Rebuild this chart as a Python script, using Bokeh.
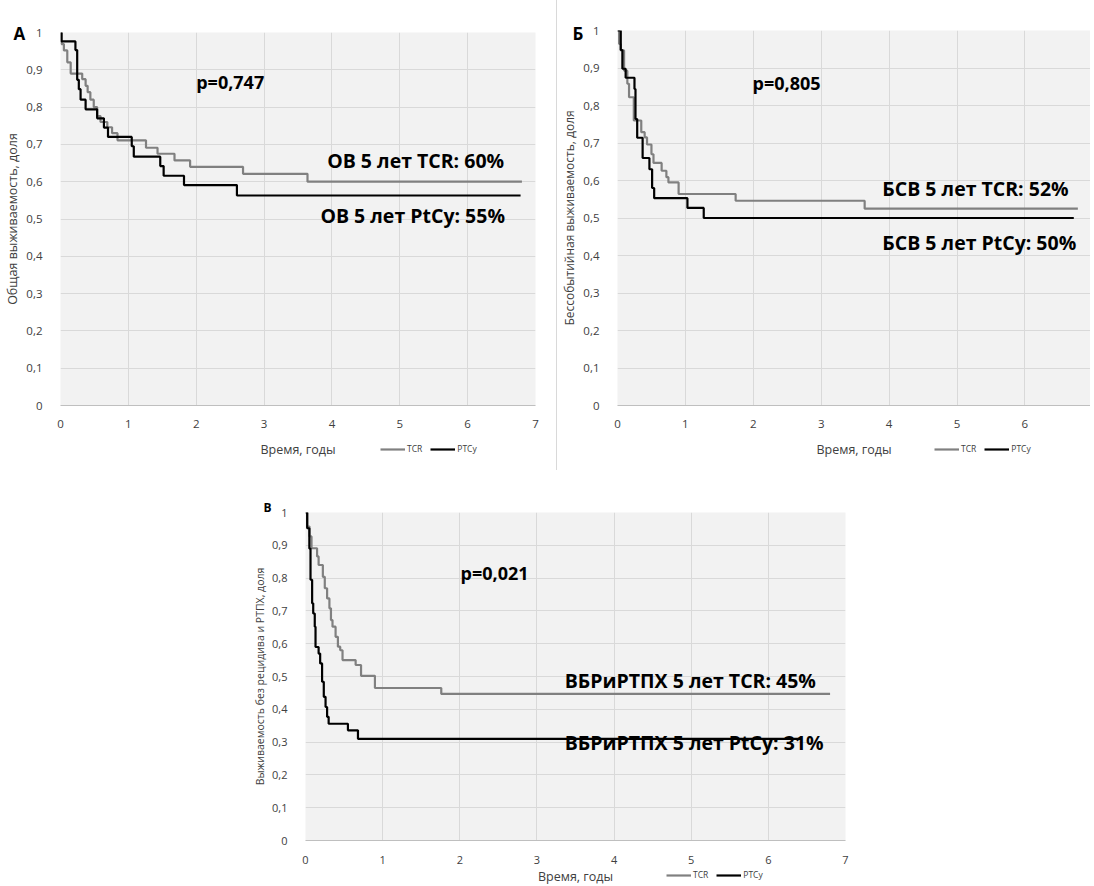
from bokeh.plotting import figure
from bokeh.models import FixedTicker, Label, Legend, LegendItem, Spacer, Title
from bokeh.layouts import row, column
from bokeh.embed import file_html
from bokeh.resources import INLINE

# ---------------- data ----------------
x_ticks = [0, 1, 2, 3, 4, 5, 6, 7]
y_ticks = [0, 0.1, 0.2, 0.3, 0.4, 0.5, 0.6, 0.7, 0.8, 0.9, 1.0]
y_tick_labels = ["0", "0,1", "0,2", "0,3", "0,4", "0,5", "0,6", "0,7", "0,8", "0,9", "1"]
series_names = ["TCR", "PTCy"]

# Panel A: overall survival
a_tcr_t = [0, 0.015, 0.05, 0.10, 0.15, 0.32, 0.37, 0.40, 0.44, 0.49, 0.54, 0.59, 0.69, 0.76, 0.84,
           1.26, 1.43, 1.68, 1.91, 2.69, 3.64, 6.80]
a_tcr_s = [1.0, 0.969, 0.952, 0.92, 0.89, 0.875, 0.857, 0.84, 0.82, 0.80, 0.776, 0.76, 0.746, 0.73, 0.711,
           0.691, 0.675, 0.657, 0.64, 0.621, 0.60, 0.60]
a_ptcy_t = [0, 0.015, 0.22, 0.246, 0.27, 0.296, 0.37, 0.54, 0.64, 0.70, 1.05, 1.08, 1.47, 1.52,
            1.82, 2.60, 6.78]
a_ptcy_s = [1.0, 0.976, 0.953, 0.873, 0.848, 0.82, 0.794, 0.77, 0.745, 0.72, 0.695, 0.667, 0.642, 0.616,
            0.591, 0.563, 0.563]

# Panel B: event-free survival
b_tcr_t = [0, 0.024, 0.048, 0.097, 0.145, 0.17, 0.24, 0.35, 0.40, 0.435, 0.50, 0.53, 0.65, 0.72, 0.75,
           0.90, 1.74, 3.64, 6.78]
b_tcr_s = [1.0, 0.964, 0.947, 0.893, 0.858, 0.822, 0.76, 0.729, 0.715, 0.696, 0.67, 0.647, 0.626, 0.609,
           0.595, 0.564, 0.546, 0.525, 0.525]
b_ptcy_t = [0, 0.048, 0.072, 0.12, 0.25, 0.265, 0.29, 0.37, 0.47, 0.51, 0.54, 1.03, 1.27, 6.72]
b_ptcy_s = [1.0, 0.948, 0.898, 0.874, 0.844, 0.764, 0.714, 0.66, 0.63, 0.58, 0.553, 0.527, 0.50, 0.50]

# Panel C: GVHD-free relapse-free survival
c_tcr_t = [0, 0.022, 0.052, 0.078, 0.15, 0.17, 0.225, 0.25, 0.28, 0.31, 0.33, 0.35, 0.39, 0.42, 0.45,
           0.48, 0.65, 0.72, 0.90, 1.76, 6.80]
c_tcr_s = [1.0, 0.957, 0.927, 0.891, 0.866, 0.84, 0.804, 0.769, 0.738, 0.708, 0.672, 0.652, 0.621, 0.591,
           0.58, 0.55, 0.535, 0.502, 0.465, 0.447, 0.447]
c_ptcy_t = [0, 0.022, 0.05, 0.065, 0.086, 0.10, 0.12, 0.13, 0.17, 0.19, 0.215, 0.237, 0.26, 0.28, 0.30,
            0.55, 0.68, 6.43]
c_ptcy_s = [1.0, 0.952, 0.89, 0.795, 0.723, 0.692, 0.652, 0.59, 0.57, 0.54, 0.484, 0.438, 0.407, 0.377,
            0.356, 0.336, 0.31, 0.31]

FONT = "Open Sans"
GRAY = "#808080"
TXT = "#404040"
X_LABEL = "Время, годы"


def make_panel(width, height, left, right, top, bottom, xend, ylabel, ylabel_size,
               tcr_t, tcr_s, ptcy_t, ptcy_s, tick_size, xtick_standoff,
               letter, letter_size, letter_offset, letter_standoff):
    p = figure(width=width, height=height, x_range=(0, xend), y_range=(0, 1),
               output_backend="svg", toolbar_location=None,
               min_border_left=left, min_border_right=right,
               min_border_top=top, min_border_bottom=bottom)
    p.background_fill_color = "#f2f2f2"
    p.border_fill_color = "white"
    p.outline_line_color = None
    p.xgrid.grid_line_color = "#d9d9d9"
    p.ygrid.grid_line_color = "#d9d9d9"
    p.xaxis.ticker = FixedTicker(ticks=x_ticks)
    p.yaxis.ticker = FixedTicker(ticks=y_ticks)
    p.yaxis.major_label_overrides = {t: l for t, l in zip(y_ticks, y_tick_labels)}
    p.xgrid.ticker = FixedTicker(ticks=x_ticks)
    p.ygrid.ticker = FixedTicker(ticks=y_ticks)
    for ax in (p.xaxis[0], p.yaxis[0]):
        ax.major_tick_line_color = None
        ax.minor_tick_line_color = None
        ax.major_label_text_font = FONT
        ax.major_label_text_font_size = tick_size
        ax.major_label_text_color = TXT
        ax.axis_label_text_font = FONT
        ax.axis_label_text_font_style = "normal"
        ax.axis_label_text_color = TXT
    p.xaxis.axis_line_color = "#bfbfbf"
    p.yaxis.axis_line_color = None
    p.yaxis.major_label_standoff = 12
    p.xaxis.major_label_standoff = xtick_standoff
    p.yaxis.axis_label = ylabel
    p.yaxis.axis_label_text_font_size = ylabel_size
    p.yaxis.axis_label_standoff = 2

    p.add_layout(Title(text=letter, align="left", offset=letter_offset, standoff=letter_standoff,
                       text_font=FONT, text_font_size=letter_size, text_font_style="bold",
                       text_color="black"), "above")

    p.step(tcr_t, tcr_s, mode="after", line_color=GRAY, line_width=2.2)
    p.step(ptcy_t, ptcy_s, mode="after", line_color="black", line_width=2.2)
    return p


def make_strip(width, height, left, right, xend, tcr_t, tcr_s, ptcy_t, ptcy_s,
               label_y, legend_loc):
    # strip below a panel: same horizontal frame, holds the x title and the legend
    s = figure(width=width, height=height, x_range=(0, xend), y_range=(0, height),
               x_axis_type=None, y_axis_type=None, output_backend="svg",
               toolbar_location=None, min_border_left=left, min_border_right=right,
               min_border_top=0, min_border_bottom=0)
    s.grid.visible = False
    s.outline_line_color = None
    s.background_fill_color = "white"
    s.border_fill_color = "white"
    s.add_layout(Label(x=xend / 2, y=label_y, text=X_LABEL, text_font=FONT, text_font_size="12.5px",
                       text_color=TXT, text_align="center", text_baseline="middle"))
    r1 = s.step(tcr_t, tcr_s, mode="after", line_color=GRAY, line_width=2.2, visible=False)
    r2 = s.step(ptcy_t, ptcy_s, mode="after", line_color="black", line_width=2.2, visible=False)
    s.add_layout(Legend(items=[LegendItem(label=series_names[0], renderers=[r1]),
                               LegendItem(label=series_names[1], renderers=[r2])],
                        location=legend_loc, orientation="horizontal",
                        background_fill_alpha=0, border_line_color=None,
                        inactive_fill_alpha=0,
                        padding=0, margin=0, spacing=8, glyph_width=25, glyph_height=10,
                        label_standoff=2, label_width=0, label_text_font=FONT,
                        label_text_font_size="8.5px", label_height=10,
                        label_text_color=TXT), "center")
    return s


def add_label(p, x, y, text, size):
    p.add_layout(Label(x=x, y=y, text=text, text_font=FONT, text_font_size=size,
                       text_font_style="bold", text_color="black",
                       text_baseline="middle", text_align="left"))


# Panel A (page x 0..556, y 0..470)
xa = 7.0
pA = make_panel(556, 437, 60, 21, 32, 32, xa, "Общая выживаемость, доля", "12.5px",
                a_tcr_t, a_tcr_s, a_ptcy_t, a_ptcy_s, "11.5px", 8,
                "А", "17px", -47, -25)
add_label(pA, 2.0, 0.866, "p=0,747", "18px")
add_label(pA, 3.93, 0.657, "ОВ 5 лет TCR: 60%", "19.5px")
add_label(pA, 3.83, 0.509, "ОВ 5 лет PtCy: 55%", "19.5px")
sA = make_strip(556, 33, 60, 21, xa, a_tcr_t, a_tcr_s, a_ptcy_t, a_ptcy_s, 21, (320, 16))

# Panel B (page x 557..1090)
xb = 473 / 67.9
pB = make_panel(533, 437, 60, 0, 30, 32, xb, "Бессобытийная выживаемость, доля", "12px",
                b_tcr_t, b_tcr_s, b_ptcy_t, b_ptcy_s, "11.5px", 8,
                "Б", "17px", -45, -29)
add_label(pB, 1.99, 0.861, "p=0,805", "18px")
add_label(pB, 3.90, 0.579, "БСВ 5 лет TCR: 52%", "19.5px")
add_label(pB, 3.90, 0.435, "БСВ 5 лет PtCy: 50%", "19.5px")
sB = make_strip(533, 33, 60, 0, xb, b_tcr_t, b_tcr_s, b_ptcy_t, b_ptcy_s, 21, (317, 16))

# Panel C (page x 250..860, y 470..884)
xc = 7.0
pC = make_panel(610, 396, 52, 15, 42, 25, xc, "Выживаемость без рецидива и РТПХ, доля", "10.5px",
                c_tcr_t, c_tcr_s, c_ptcy_t, c_ptcy_s, "11px", 9,
                "В", "12px", -42, -7)
add_label(pC, 2.01, 0.815, "p=0,021", "18px")
add_label(pC, 3.36, 0.489, "ВБРиРТПХ 5 лет TCR: 45%", "19.5px")
add_label(pC, 3.36, 0.298, "ВБРиРТПХ 5 лет PtCy: 31%", "19.5px")
sC = make_strip(610, 18, 52, 15, xc, c_tcr_t, c_tcr_s, c_ptcy_t, c_ptcy_s, 8, (361, 4))

sep = Spacer(width=1, height=470, styles={"background-color": "#d9d9d9"})
layout = column(row(column(pA, sA), sep, column(pB, sB)),
                row(Spacer(width=250, height=414), column(pC, sC)))

open("out.html", "w").write(file_html(layout, INLINE))
